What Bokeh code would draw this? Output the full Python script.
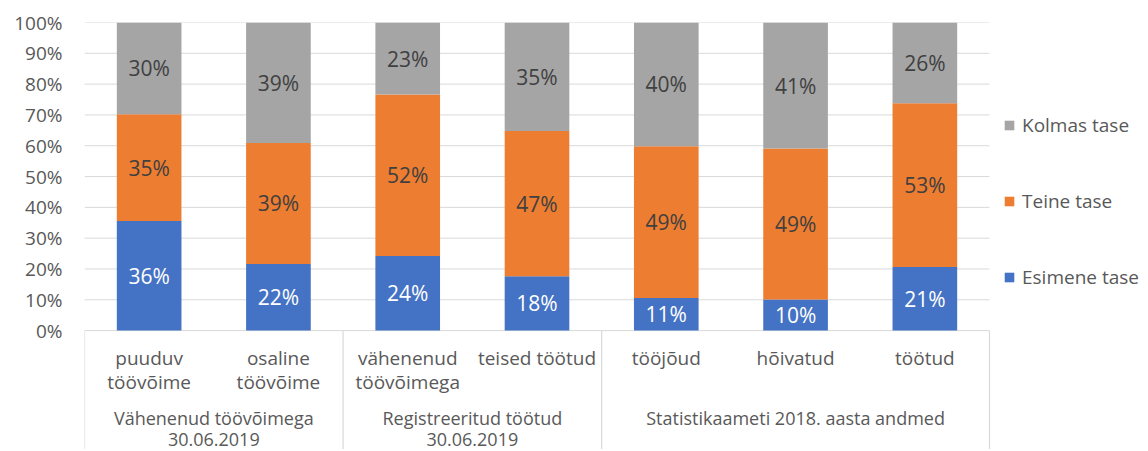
from bokeh.plotting import figure
from bokeh.models import Range1d, Legend, LegendItem, ColumnDataSource, FixedTicker, CustomJSTickFormatter
from bokeh.core.properties import value
from bokeh.embed import file_html
from bokeh.resources import INLINE

group_names = ["Vähenenud töövõimega\n30.06.2019",
               "Registreeritud töötud\n30.06.2019",
               "Statistikaameti 2018. aasta andmed"]
group_sizes = [2, 2, 3]
categories = ["puuduv\ntöövõime", "osaline\ntöövõime", "vähenenud\ntöövõimega",
              "teised töötud", "tööjõud", "hõivatud", "töötud"]
esimene = [35.6, 21.6, 24.2, 17.6, 10.6, 10.1, 20.6]
teine = [34.6, 39.3, 52.4, 47.2, 49.2, 49.0, 53.2]
kolmas = [29.8, 39.1, 23.4, 35.2, 40.2, 40.9, 26.2]
series_names = ["Esimene tase", "Teine tase", "Kolmas tase"]
colors = ["#4472C4", "#ED7D31", "#A5A5A5"]
y_ticks = [0, 10, 20, 30, 40, 50, 60, 70, 80, 90, 100]

FONT = "Open Sans"
TXT = "#595959"
GRID = "#d9d9d9"
Y_BOTTOM = -38.6          # room below 0% for the two-level category axis
CAT_Y = -4.6              # top of the category labels
GRP_Y = -24.6             # top of the group labels

n = len(categories)
xs = [i + 0.5 for i in range(n)]
bounds = [0]
for s in group_sizes:
    bounds.append(bounds[-1] + s)
group_x = [(bounds[k] + bounds[k + 1]) / 2 for k in range(len(group_sizes))]

W, H = 1146, 449
LEFT, RIGHT_PAD, TOP = 84, 157, 22
frame_w = W - LEFT
x_end = n * frame_w / (frame_w - RIGHT_PAD)   # free space right of the bars for the legend

src = ColumnDataSource(dict(x=xs, esimene=esimene, teine=teine, kolmas=kolmas))

p = figure(width=W, height=H, output_backend="svg", toolbar_location=None,
           x_range=Range1d(0, x_end), y_range=Range1d(Y_BOTTOM, 100),
           x_axis_location=None,
           min_border_left=LEFT, min_border_right=0, min_border_top=TOP,
           min_border_bottom=0)
p.outline_line_color = None
p.background_fill_color = "white"
p.border_fill_color = "white"
p.xgrid.grid_line_color = None
p.ygrid.grid_line_color = None

# horizontal gridlines across the bar area only
p.segment(x0=[0] * len(y_ticks), y0=y_ticks, x1=[n] * len(y_ticks), y1=y_ticks,
          line_color=GRID, line_width=1)
# group separator lines
p.segment(x0=bounds, y0=[0] * len(bounds), x1=bounds, y1=[Y_BOTTOM] * len(bounds),
          line_color=GRID, line_width=1.2)

rs = p.vbar_stack(["esimene", "teine", "kolmas"], x="x", width=0.5, color=colors,
                  line_color=None, source=src)

# data labels
lx, ly, lt, lc = [], [], [], []
for i in range(n):
    b = 0
    for vals, col in ((esimene, "white"), (teine, "#404040"), (kolmas, "#404040")):
        v = vals[i]
        lx.append(xs[i]); ly.append(b + v / 2); lt.append(f"{round(v)}%"); lc.append(col)
        b += v
p.text(x=lx, y=ly, text=lt, text_color=lc, text_align="center", text_baseline="middle",
       text_font=value(FONT), text_font_size="21px")

# category labels and group labels of the x axis
p.text(x=xs, y=[CAT_Y] * n, text=categories, text_color=TXT, text_align="center",
       text_baseline="top", text_font=value(FONT), text_font_size="19px",
       text_line_height=0.93)
p.text(x=group_x, y=[GRP_Y] * len(group_names), text=group_names, text_color=TXT,
       text_align="center", text_baseline="top", text_font=value(FONT),
       text_font_size="18px", text_line_height=0.86)

# y axis
p.yaxis.ticker = FixedTicker(ticks=y_ticks)
p.yaxis.formatter = CustomJSTickFormatter(code="return tick.toFixed(0) + '%'")
p.yaxis.axis_line_color = None
p.yaxis.major_tick_line_color = None
p.yaxis.minor_tick_line_color = None
p.yaxis.major_label_standoff = 16
p.yaxis.major_label_text_font = FONT
p.yaxis.major_label_text_font_size = "19px"
p.yaxis.major_label_text_color = TXT

legend = Legend(items=[LegendItem(label=series_names[2], renderers=[rs[2]]),
                       LegendItem(label=series_names[1], renderers=[rs[1]]),
                       LegendItem(label=series_names[0], renderers=[rs[0]])],
                location=(919, 159), padding=0, margin=0, spacing=50,
                label_height=22, glyph_height=12, glyph_width=12, label_standoff=7,
                border_line_color=None, background_fill_alpha=0,
                label_text_font=FONT, label_text_font_size="19px",
                label_text_color=TXT)
p.add_layout(legend)

open("out.html", "w").write(file_html(p, INLINE))
